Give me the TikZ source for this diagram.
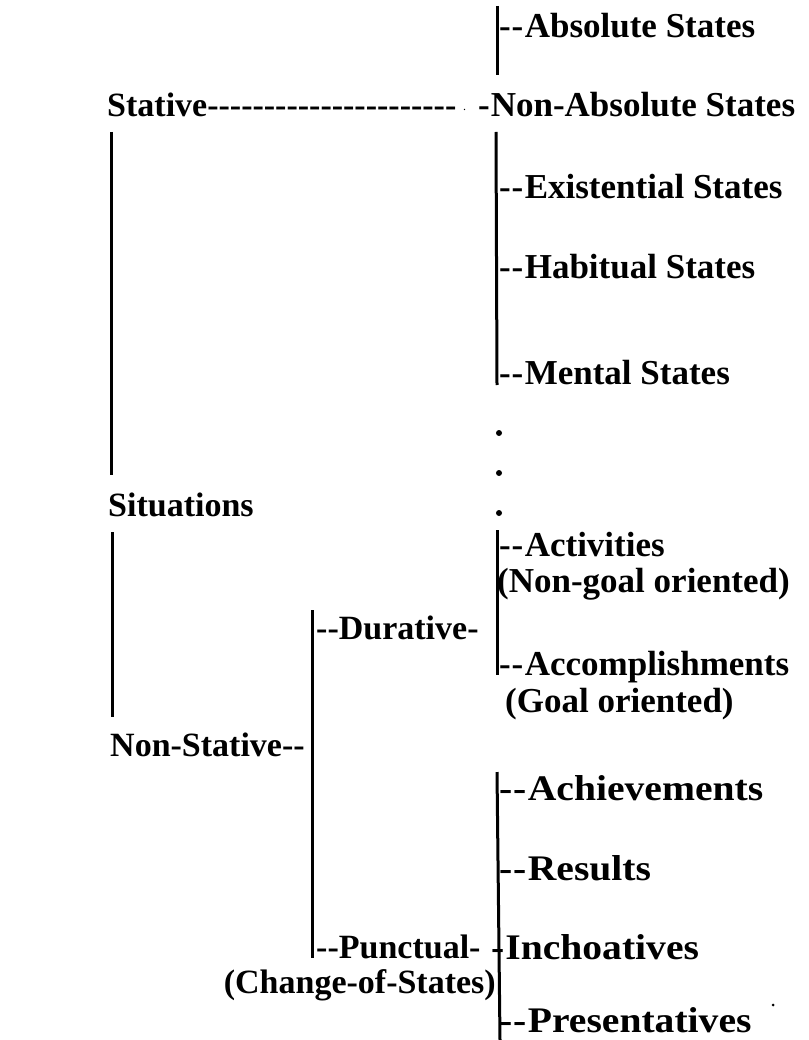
\documentclass[tikz,border=0pt]{standalone}
\usepackage{fontspec}
\setmainfont{Liberation Serif}
\newfontfamily\widefont[FakeStretch=1.1]{Liberation Serif}
\usepackage{tikz}
\usetikzlibrary{positioning,calc}
\newcommand{\dd}{-\kern0.8pt-\kern1.5pt}
\newcommand{\hyrow}[1]{\foreach \k in {1,...,#1}{-{}}}

\begin{document}
\begin{tikzpicture}[x=1pt,y=-1pt,
  lbl/.style={anchor=west,inner sep=0pt,font=\fontsize{35}{40}\selectfont\bfseries},
  lbls/.style={lbl,font=\fontsize{34}{38}\selectfont\bfseries},
  lblw/.style={lbl,font=\fontsize{36}{40}\selectfont\widefont\bfseries},
  bar/.style={line width=3pt}]
  \useasboundingbox (0,0) rectangle (808,1040);

  % 静态分支
  \node[lbl] (abs) at (499,26) {\dd Absolute States};
  \node[lbls] (stat) at (107,105) {Stative\hyrow{22}};
  \node[lbl,font=\fontsize{12}{12}\selectfont] (pt) at (463,110) {.};
  \node[lbl] (nabs) at (478,105) {-\kern1pt Non-Absolute States};
  \node[lbl] (exi) at (499,187) {\dd Existential States};
  \node[lbl] (hab) at (499,267) {\dd Habitual States};
  \node[lbl] (men) at (499,373) {\dd Mental States};

  % 竖线（右上）
  \coordinate (r1a) at (497,6);
  \coordinate (r1b) at (497,75);
  \coordinate (r2a) at (496,132);
  \coordinate (r2b) at (497,385);
  \draw[bar] (r1a) -- (r1b);
  \draw[bar] (r2a) -- (r2b);

  % 省略点
  \foreach \yy in {433,473,513}
    \fill (499,\yy) circle (3pt);

  % 根节点
  \node[lbls] (sit) at (108,505) {Situations};
  \coordinate (l1a) at (111,132);
  \coordinate (l1b) at (111,475);
  \coordinate (l2a) at (112,532);
  \coordinate (l2b) at (112,717);
  \draw[bar] (l1a) -- (l1b);
  \draw[bar] (l2a) -- (l2b);

  % 非静态分支
  \node[lbls] (nst) at (110,745) {Non-Stative-{}-};
  \node[lbls] (dur) at (316,628) {-{}-Durative-};
  \node[lbls] (pun) at (316,947) {-{}-Punctual-};
  \node[lbls,anchor=east] (cos) at (496,985) {(Change-of-States)};
  \coordinate (m1a) at (312,610);
  \coordinate (m1b) at (312,958);
  \draw[bar] (m1a) -- (m1b);

  % 持续类
  \node[lbl] (act) at (499,545) {\dd Activities};
  \node[lbl] (ngo) at (497,584) {(Non-goal oriented)};
  \node[lbl] (acc) at (499,667) {\dd Accomplishments};
  \node[lbl] (goa) at (505,704) {(Goal oriented)};
  \coordinate (r3a) at (497,530);
  \coordinate (r3b) at (497,675);
  \draw[bar] (r3a) -- (r3b);

  % 瞬时类
  \node[lblw] (ach) at (499,788) {\dd Achievements};
  \node[lblw] (res) at (499,868) {\dd Results};
  \node[lblw] (inc) at (491,947) {-\kern1pt Inchoatives};
  \node[lblw] (pre) at (499,1020) {\dd Presentatives};
  \coordinate (r4a) at (497,772);
  \coordinate (r4b) at (500,1040);
  \draw[bar] (r4a) -- (r4b);

  % 扫描斑点
  \fill (773,1005) circle (1.5pt);
\end{tikzpicture}
\end{document}
